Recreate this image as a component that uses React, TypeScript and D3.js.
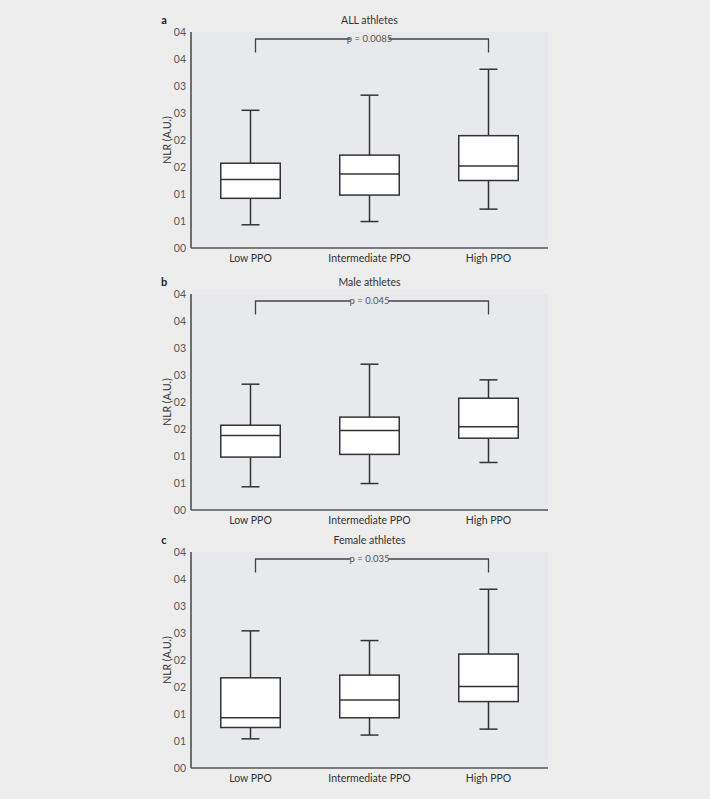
import React from "react";
import * as d3 from "d3";

const categories = ["Low PPO", "Intermediate PPO", "High PPO"];
const panelLetters = ["a", "b", "c"];
const panelTitles = ["ALL athletes", "Male athletes", "Female athletes"];
const pLabels = ["p = 0.0085", "p = 0.045", "p = 0.035"];
const tickValues = [0, 0.5, 1, 1.5, 2, 2.5, 3, 3.5, 4];
const tickLabels = ["00", "01", "01", "02", "02", "03", "03", "04", "04"];

// per panel: [Low, Intermediate, High]
const allWhiskerLow = [0.43, 0.49, 0.72];
const allQ1 = [0.92, 0.98, 1.25];
const allMedian = [1.27, 1.37, 1.52];
const allQ3 = [1.57, 1.72, 2.08];
const allWhiskerHigh = [2.55, 2.83, 3.31];

const maleWhiskerLow = [0.43, 0.49, 0.88];
const maleQ1 = [0.98, 1.03, 1.33];
const maleMedian = [1.38, 1.47, 1.54];
const maleQ3 = [1.57, 1.72, 2.07];
const maleWhiskerHigh = [2.33, 2.7, 2.41];

const femaleWhiskerLow = [0.54, 0.61, 0.72];
const femaleQ1 = [0.75, 0.93, 1.23];
const femaleMedian = [0.93, 1.26, 1.51];
const femaleQ3 = [1.67, 1.72, 2.11];
const femaleWhiskerHigh = [2.54, 2.36, 3.31];

const bracketTop = 3.87;
const bracketLeg = 3.62;

const panels = [
  { lo: allWhiskerLow, q1: allQ1, med: allMedian, q3: allQ3, hi: allWhiskerHigh },
  { lo: maleWhiskerLow, q1: maleQ1, med: maleMedian, q3: maleQ3, hi: maleWhiskerHigh },
  { lo: femaleWhiskerLow, q1: femaleQ1, med: femaleMedian, q3: femaleQ3, hi: femaleWhiskerHigh },
];

const panelTops = [32, 294, 552];
const FONT = "Lato, 'Open Sans', sans-serif";

function Panel({ idx }: { idx: number }) {
  const top = panelTops[idx];
  const height = 216;
  const left = 191;
  const right = 548;
  const d = panels[idx];
  const y = d3.scaleLinear().domain([0, 4]).range([top + height, top]);
  const x = d3.scaleBand().domain(categories).range([left, right]);
  const bw = x.bandwidth();
  const boxW = bw * 0.5;
  const capW = 18;
  const stroke = "#333";
  const cx = (c: string) => (x(c) as number) + bw / 2;
  const lx = cx(categories[0]) + 5;
  const rx = cx(categories[2]);
  const midX = (left + right) / 2;
  return (
    <g>
      <rect x={left} y={top} width={right - left} height={height} fill="#e8e9ec" />
      <text x={164} y={top - 8} fontFamily={FONT} fontWeight="bold" fontSize={11} fill="#222" textAnchor="middle">
        {panelLetters[idx]}
      </text>
      <text x={midX} y={top - 8} fontFamily={FONT} fontSize={10.5} fill="#333" textAnchor="middle">
        {panelTitles[idx]}
      </text>
      {tickValues.map((t, i) => (
        <text key={i} x={186} y={y(t)} dy="0.35em" fontFamily={FONT} fontSize={10.5} fill="#555" textAnchor="end">
          {tickLabels[i]}
        </text>
      ))}
      <text
        transform={`translate(167,${top + height / 2}) rotate(-90)`}
        fontFamily={FONT}
        fontSize={10.5}
        fill="#333"
        textAnchor="middle"
        dy="0.35em"
      >
        NLR (A.U.)
      </text>
      {categories.map((c, i) => {
        const xc = cx(c);
        return (
          <g key={c}>
            <line x1={xc} x2={xc} y1={y(d.hi[i])} y2={y(d.q3[i])} stroke={stroke} strokeWidth={1.5} />
            <line x1={xc} x2={xc} y1={y(d.q1[i])} y2={y(d.lo[i])} stroke={stroke} strokeWidth={1.5} />
            <line x1={xc - capW / 2} x2={xc + capW / 2} y1={y(d.hi[i])} y2={y(d.hi[i])} stroke={stroke} strokeWidth={1.5} />
            <line x1={xc - capW / 2} x2={xc + capW / 2} y1={y(d.lo[i])} y2={y(d.lo[i])} stroke={stroke} strokeWidth={1.5} />
            <rect
              x={xc - boxW / 2}
              y={y(d.q3[i])}
              width={boxW}
              height={y(d.q1[i]) - y(d.q3[i])}
              fill="#ffffff"
              stroke={stroke}
              strokeWidth={1.5}
            />
            <line x1={xc - boxW / 2} x2={xc + boxW / 2} y1={y(d.med[i])} y2={y(d.med[i])} stroke={stroke} strokeWidth={1.5} />
            <text x={xc} y={top + height + 10} dy="0.35em" fontFamily={FONT} fontSize={10.5} fill="#333" textAnchor="middle">
              {c}
            </text>
          </g>
        );
      })}
      <path
        d={`M${lx},${y(bracketLeg)}V${y(bracketTop)}H${rx}V${y(bracketLeg)}`}
        fill="none"
        stroke="#444"
        strokeWidth={1.3}
      />
      <rect x={midX - 19} y={y(bracketTop) - 5} width={38} height={10} fill="#e8e9ec" />
      <text x={midX} y={y(bracketTop)} dy="0.35em" fontFamily={FONT} fontSize={9.5} fill="#555" textAnchor="middle">
        {pLabels[idx]}
      </text>
      <line x1={left} x2={left} y1={top} y2={top + height} stroke="#444" strokeWidth={1.5} />
      <line x1={left} x2={right} y1={top + height} y2={top + height} stroke="#555" strokeWidth={1.5} />
    </g>
  );
}

export default function App() {
  return (
    <svg width={710} height={799} style={{ position: "absolute", left: 0, top: 0, display: "block" }}>
      <rect x={0} y={0} width={710} height={799} fill="#ededed" />
      {panels.map((_, i) => (
        <Panel key={i} idx={i} />
      ))}
    </svg>
  );
}
